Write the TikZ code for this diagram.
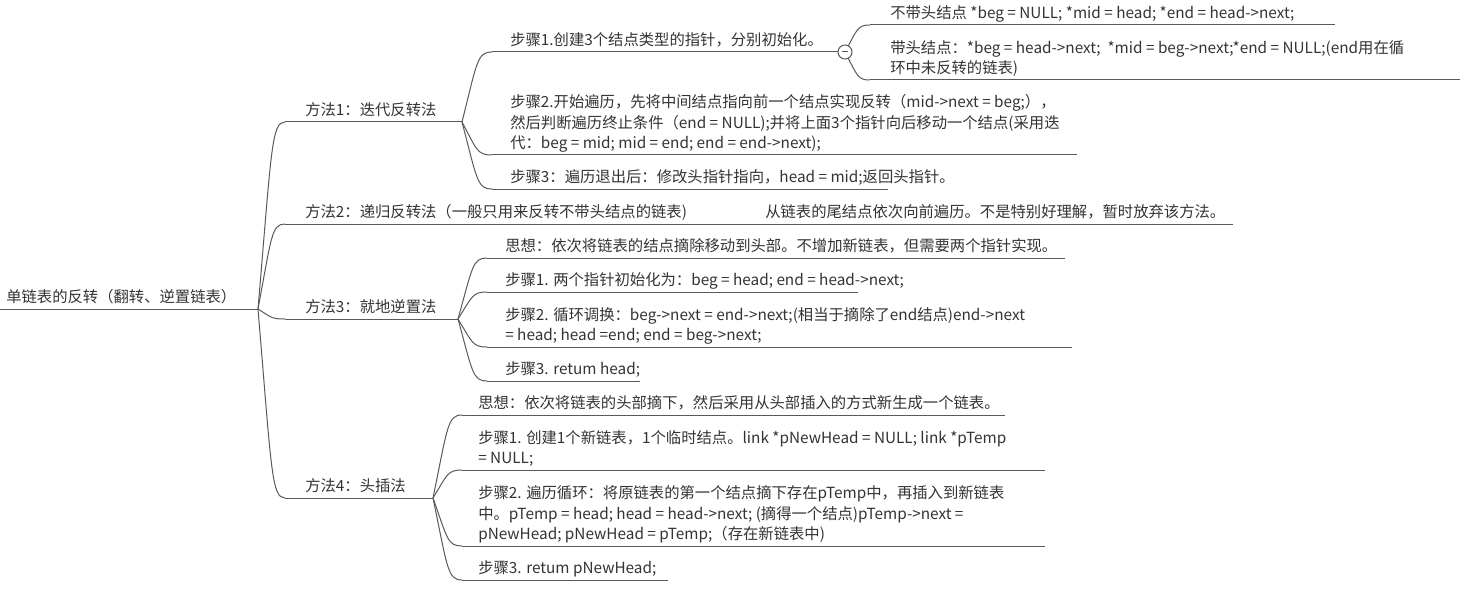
\documentclass[tikz,border=0pt]{standalone}
\usepackage{fontspec}
\newfontfamily\cjk{Noto Sans CJK SC}
\usetikzlibrary{calc}
\tikzset{
  topic/.style={anchor=south west, inner sep=0pt, align=left, text=black!80,
    font=\cjk\fontsize{11.5}{15.4}\selectfont},
  line/.style={draw=black!65, line width=0.75pt},
  branch/.style={to path={let \p1=(\tikztostart), \p2=(\tikztotarget) in
    .. controls ({\x1+0.5*(\x2-\x1)},{\y1+0.85*(\y2-\y1)})
    and ({\x1+0.5*(\x2-\x1)},\y2) .. (\tikztotarget)}},
  foldbtn/.style={circle, line, fill=white, inner sep=0pt, minimum size=10.5pt,
    path picture={\draw[line] ([xshift=-2.6pt]path picture bounding box.center)
      -- ([xshift=2.6pt]path picture bounding box.center);}},
}
% name, line start, text x, line end, line y, text
\newcommand\topic[6]{%
  \coordinate (#1-l) at (#2,#5);
  \coordinate (#1-r) at (#4,#5);
  \draw[line] (#1-l) -- (#1-r);
  \node[topic] (#1) at (#3,#5) {#6\strut};}
\begin{document}
\begin{tikzpicture}[x=0.75pt, y=-0.75pt]
\useasboundingbox (0,0) rectangle (1465,592);
\topic{root}{0}{6}{258}{309}{单链表的反转（翻转、逆置链表）}
% methods
\topic{m1}{285}{305}{462}{122}{方法1：迭代反转法}
\topic{m2}{285}{305}{745}{224}{方法2：递归反转法（一般只用来反转不带头结点的链表)}
\topic{m3}{285}{305}{458}{319}{方法3：就地逆置法}
\topic{m4}{285}{305}{433}{498}{方法4：头插法}
\topic{m2a}{745}{765}{1233}{224}{从链表的尾结点依次向前遍历。不是特别好理解，暂时放弃该方法。}
% method 1
\topic{s1}{492}{510}{845}{52}{步骤1.创建3个结点类型的指针，分别初始化。}
\topic{s2}{492}{510}{1077}{155}{步骤2.开始遍历，先将中间结点指向前一个结点实现反转（mid->next = beg;），\\
  然后判断遍历终止条件（end = NULL);并将上面3个指针向后移动一个结点(采用迭\\
  代：beg = mid; mid = end; end = end->next);}
\topic{s3}{492}{510}{888}{189}{步骤3：遍历退出后：修改头指针指向，head = mid;返回头指针。}
\coordinate (knot) at (845,52);
\topic{s1a}{870}{890}{1335}{25}{不带头结点 *beg = NULL; *mid = head; *end = head->next;}
\topic{s1b}{870}{890}{1460}{80}{带头结点：*beg = head->next;~ *mid = beg->next;*end = NULL;(end用在循\\
  环中未反转的链表)}
% method 3
\topic{t1}{487}{505}{1065}{258}{思想：依次将链表的结点摘除移动到头部。不增加新链表，但需要两个指针实现。}
\topic{t2}{487}{505}{858}{292}{步骤1. 两个指针初始化为：beg = head; end = head->next;}
\topic{t3}{487}{505}{1072}{347}{步骤2. 循环调换：beg->next = end->next;(相当于摘除了end结点)end->next\\
  = head; head =end; end = beg->next;}
\topic{t4}{487}{505}{640}{381}{步骤3. retum head;}
% method 4
\topic{u1}{462}{478}{1005}{415}{思想：依次将链表的头部摘下，然后采用从头部插入的方式新生成一个链表。}
\topic{u2}{462}{478}{1045}{470}{步骤1. 创建1个新链表，1个临时结点。link *pNewHead = NULL; link *pTemp\\
  = NULL;}
\topic{u3}{462}{478}{1045}{546}{步骤2. 遍历循环：将原链表的第一个结点摘下存在pTemp中，再插入到新链表\\
  中。pTemp = head; head = head->next; (摘得一个结点)pTemp->next =\\
  pNewHead; pNewHead = pTemp;（存在新链表中)}
\topic{u4}{462}{478}{668}{580}{步骤3. retum pNewHead;}
\foreach \a/\b in {root-r/m1-l, root-r/m2-l, root-r/m3-l, root-r/m4-l,
    m2-r/m2a-l, m1-r/s1-l, m1-r/s2-l, m1-r/s3-l, knot/s1a-l, knot/s1b-l,
    m3-r/t1-l, m3-r/t2-l, m3-r/t3-l, m3-r/t4-l,
    m4-r/u1-l, m4-r/u2-l, m4-r/u3-l, m4-r/u4-l}
  \draw[line] (\a) to[branch] (\b);
\node[foldbtn] (fold) at (knot) {};
\end{tikzpicture}
\end{document}
